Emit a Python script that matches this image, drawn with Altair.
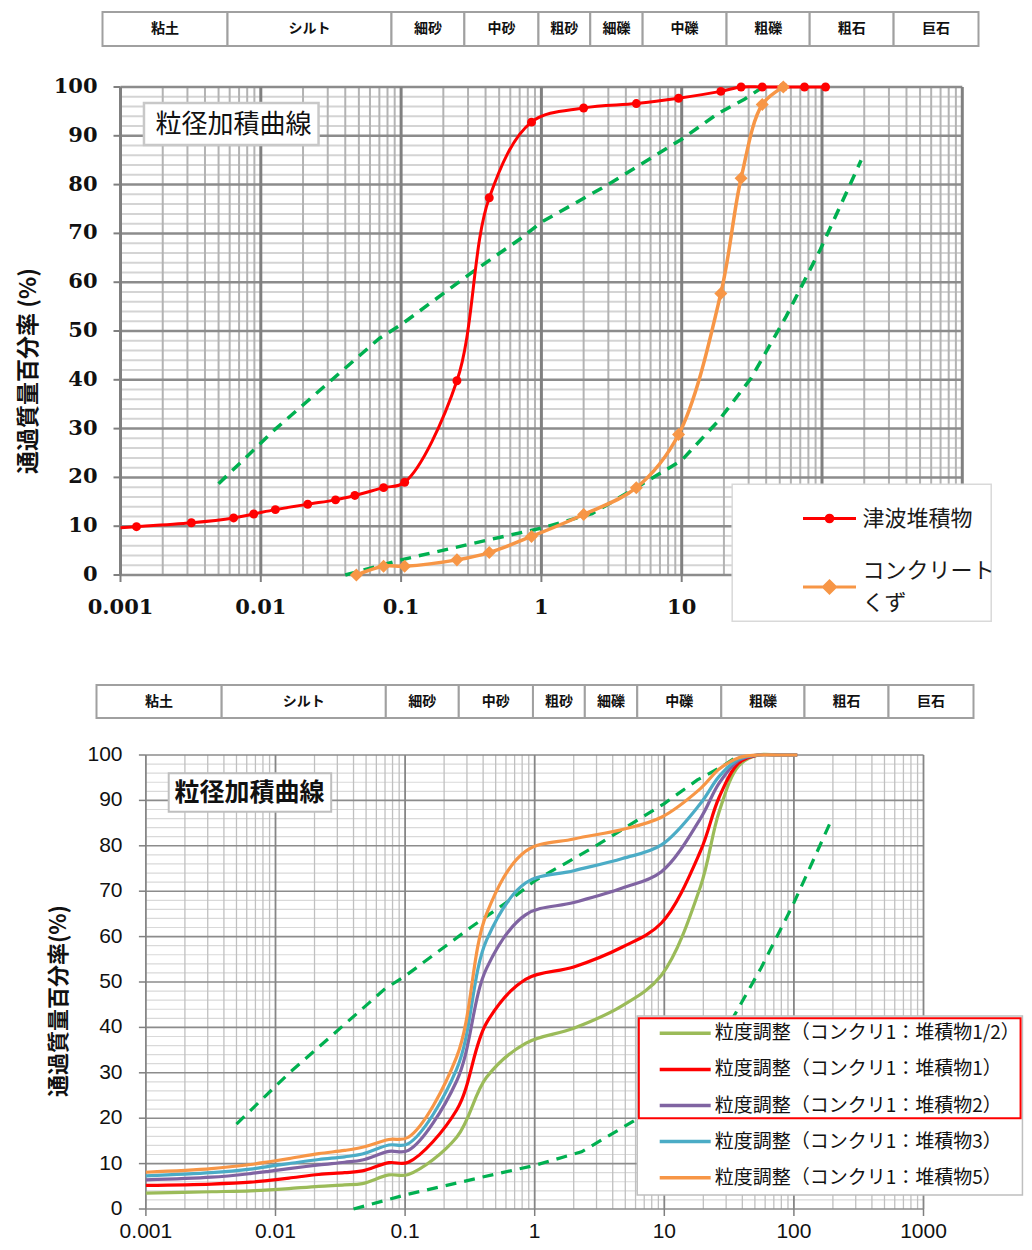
import altair as alt
import pandas as pd

JP = "Noto Sans CJK JP"

# ---------------- header: soil classification ----------------
CLASS_NAMES = ["粘土", "シルト", "細砂", "中砂", "粗砂", "細礫", "中礫", "粗礫", "粗石", "巨石"]
CLASS_BOUNDS = [0.000634, 0.005, 0.075, 0.25, 0.85, 2, 4.75, 19, 75, 300, 1219]

# ---------------- top chart ----------------
TOP_SERIES = ["津波堆積物", "コンクリートくず"]
TOP_COLORS = ["#FF0000", "#F79646"]
TSUNAMI_D = [0.001, 0.0013, 0.0032, 0.0064, 0.0089, 0.0127, 0.0216, 0.0341, 0.0468, 0.075, 0.106,
             0.25, 0.425, 0.85, 2, 4.75, 9.5, 19, 26.5, 37.5, 53, 75, 106]
TSUNAMI_P = [9.7, 9.9, 10.7, 11.7, 12.5, 13.4, 14.5, 15.4, 16.3, 17.9, 19.0,
             39.8, 77.3, 92.8, 95.7, 96.6, 97.7, 99.1, 100, 100, 100, 100, 100]
TSUNAMI_MARK = [False] + [True] * 22
CONCRETE_D = [0.048, 0.075, 0.106, 0.25, 0.425, 0.85, 2, 4.75, 9.5, 19, 26.5, 37.5, 53]
CONCRETE_P = [0, 1.8, 1.8, 3.1, 4.6, 7.9, 12.4, 17.9, 28.8, 57.7, 81.3, 96.4, 100]

# standard grading band (green dashed)
GUIDE_A_D = [0.005, 0.0127, 0.07, 0.1, 0.32, 0.7, 1, 2.9, 10, 18, 28, 38]
GUIDE_A_P = [18.7, 29.9, 48.5, 51.3, 62.0, 68.8, 72.3, 79.8, 89.3, 94.5, 97.5, 100]
GUIDE_B_D = [0.04, 0.1, 0.5, 1, 2.3, 4.75, 10, 18.4, 31.2, 55.8, 97.3, 150, 190]
GUIDE_B_P = [0, 3.1, 7.7, 9.6, 12.6, 17.9, 23.5, 31.7, 40.3, 53.1, 66.7, 78.5, 85]

# ---------------- bottom chart ----------------
MIX_SERIES = ["粒度調整（コンクリ1：堆積物1/2）", "粒度調整（コンクリ1：堆積物1）",
              "粒度調整（コンクリ1：堆積物2）", "粒度調整（コンクリ1：堆積物3）",
              "粒度調整（コンクリ1：堆積物5）"]
MIX_COLORS = ["#9BBB59", "#FF0000", "#8064A2", "#4BACC6", "#F79646"]
MIX_D = [0.001, 0.0032, 0.0064, 0.0089, 0.0127, 0.0216, 0.0341, 0.0468, 0.075, 0.106, 0.25,
         0.425, 0.85, 2, 4.75, 9.5, 19, 26.5, 37.5, 53, 75, 106]
MIX_HALF = [3.5, 3.8, 4.0, 4.2, 4.5, 5.0, 5.3, 5.6, 7.5, 7.6, 15.8, 29.0, 36.5, 39.8, 44.8, 51.5,
            71.0, 87.5, 97.6, 100, 100, 100]
MIX_1 = [5.2, 5.5, 5.9, 6.3, 6.8, 7.6, 8.0, 8.4, 10.2, 10.3, 21.8, 41.0, 50.6, 53.3, 57.7, 63.0,
         78.8, 90.7, 98.2, 100, 100, 100]
MIX_2 = [6.4, 7.0, 7.8, 8.3, 8.9, 9.7, 10.3, 10.8, 12.7, 12.9, 28.2, 53.0, 64.8, 67.5, 70.7, 74.3,
         86.0, 93.8, 98.8, 100, 100, 100]
MIX_3 = [7.3, 8.0, 8.8, 9.4, 10.0, 10.9, 11.5, 12.1, 14.1, 14.4, 30.8, 59.2, 71.8, 74.5, 77.2, 80.2,
         89.3, 95.3, 99.1, 100, 100, 100]
MIX_5 = [8.1, 8.9, 9.8, 10.4, 11.1, 12.2, 12.9, 13.6, 15.3, 15.8, 33.5, 65.0, 78.8, 81.5, 83.6, 86.3,
         92.6, 96.9, 99.4, 100, 100, 100]

# axes / grid
X_TICKS = [0.001, 0.01, 0.1, 1, 10, 100, 1000]
X_LABELS = ["0.001", "0.01", "0.1", "1", "10", "100", "1000"]
Y_TICKS = list(range(0, 101, 10))
X_MINOR = [m * d for d in X_TICKS[:-1] for m in range(2, 10)]
Y_MINOR = [v for v in range(0, 101, 2) if v % 10]

TITLE_TEXT = "粒径加積曲線"
TOP_YTITLE = "通過質量百分率 (%)"
BOT_YTITLE = "通過質量百分率(%)"
# annotation positions in data coordinates
TOP_TITLE_BOX = {"x1": 0.00147, "x2": 0.0258, "y1": 88.1, "y2": 96.7}
TOP_TITLE_AT = {"x": 0.0064, "y": 92.3}
TOP_YTITLE_AT = {"x": 0.000223, "y": 41.8}
TOP_LEGEND_BOX = {"x1": 22.9, "x2": 1607, "y1": -9.5, "y2": 18.6}
BOT_TITLE_BOX = {"x1": 0.0015, "x2": 0.0269, "y1": 87.5, "y2": 96.0}
BOT_TITLE_AT = {"x": 0.0063, "y": 91.7}
BOT_YTITLE_AT = {"x": 0.000215, "y": 45.8}
BOT_LEGEND_BOX = {"x1": 6.18, "x2": 5800, "y1": 3.1, "y2": 42.5}
BOT_RED_BOX = {"x1": 6.36, "x2": 5610, "y1": 20.0, "y2": 42.0}

PATH_CIRCLE = "M-2,0L2,0M0.25,0A0.25,0.25,0,1,1,-0.25,0A0.25,0.25,0,1,1,0.25,0Z"
PATH_DIAMOND = "M-2,1.21L2,1.21M0,0.76L0.45,1.21L0,1.66L-0.45,1.21Z"
PATH_LINE = "M-2,0L2,0"

W = 882


def header(rng, h):
    df = pd.DataFrame({"name": CLASS_NAMES, "lo": CLASS_BOUNDS[:-1], "hi": CLASS_BOUNDS[1:]})
    xs = alt.Scale(type="log", domain=[CLASS_BOUNDS[0], CLASS_BOUNDS[-1]], range=rng, nice=False)
    rect = alt.Chart(df).mark_rect(fill="white", stroke="#a0a0a0", strokeWidth=2).encode(
        x=alt.X("lo:Q", scale=xs, axis=None), x2="hi:Q", y=alt.value(0), y2=alt.value(h))
    txt = alt.Chart(df).transform_calculate(mid="sqrt(datum.lo * datum.hi)").mark_text(
        font=JP, fontSize=14, fontWeight="bold", color="#111").encode(
        x=alt.X("mid:Q", scale=xs, axis=None), y=alt.value(h / 2), text="name:N")
    return alt.layer(rect, txt)


def grid(xs, ys, st):
    vmin = alt.Chart(pd.DataFrame({"v": X_MINOR})).mark_rule(color=st["vmin"][0], strokeWidth=st["vmin"][1]).encode(
        x=alt.X("v:Q", scale=xs, axis=None), y=alt.YDatum(0, scale=ys, axis=None), y2=alt.datum(100))
    hmin = alt.Chart(pd.DataFrame({"v": Y_MINOR})).mark_rule(color=st["hmin"][0], strokeWidth=st["hmin"][1]).encode(
        y=alt.Y("v:Q", scale=ys, axis=None), x=alt.XDatum(0.001, scale=xs, axis=None), x2=alt.datum(1000))
    hmaj = alt.Chart(pd.DataFrame({"v": Y_TICKS})).mark_rule(color=st["hmaj"][0], strokeWidth=st["hmaj"][1]).encode(
        y=alt.Y("v:Q", scale=ys, axis=None), x=alt.XDatum(0.001, scale=xs, axis=None), x2=alt.datum(1000))
    vmaj = alt.Chart(pd.DataFrame({"v": X_TICKS})).mark_rule(color=st["vmaj"][0], strokeWidth=st["vmaj"][1]).encode(
        x=alt.X("v:Q", scale=xs, axis=None), y=alt.YDatum(0, scale=ys, axis=None), y2=alt.datum(100))
    return [hmin, vmin, hmaj, vmaj]


def axes(xs, ys, st):
    tick_y = alt.Chart(pd.DataFrame({"v": Y_TICKS})).mark_rule(
        color=st["axis"], strokeWidth=st["tickw"], x2Offset=-7).encode(
        x=alt.XDatum(X_TICKS[0], scale=xs, axis=None), x2=alt.datum(X_TICKS[0]),
        y=alt.Y("v:Q", scale=ys, axis=None))
    tick_x = alt.Chart(pd.DataFrame({"v": X_TICKS})).mark_rule(
        color=st["axis"], strokeWidth=st["tickw"], y2Offset=7).encode(
        x=alt.X("v:Q", scale=xs, axis=None), y=alt.YDatum(0, scale=ys, axis=None), y2=alt.datum(0))
    ylab = alt.Chart(pd.DataFrame({"v": Y_TICKS})).mark_text(
        align="right", baseline="middle", dx=-st["ylab_gap"], font=st["font"], fontSize=21,
        fontWeight=st["weight"], color="#111").encode(
        x=alt.XDatum(X_TICKS[0], scale=xs, axis=None), y=alt.Y("v:Q", scale=ys, axis=None),
        text=alt.Text("v:Q"))
    xlab = alt.Chart(pd.DataFrame({"v": X_TICKS, "t": X_LABELS})).transform_filter(
        f"datum.v <= {st['xlab_max']}").mark_text(
        align="center", baseline="top", dy=st["xlab_gap"], font=st["font"], fontSize=21,
        fontWeight=st["weight"], color="#111").encode(
        x=alt.X("v:Q", scale=xs, axis=None), y=alt.YDatum(0, scale=ys, axis=None), text="t:N")
    return [tick_y, tick_x, ylab, xlab]


def guides(xs, ys, width):
    df = pd.DataFrame({"d": GUIDE_A_D + GUIDE_B_D, "p": GUIDE_A_P + GUIDE_B_P,
                       "g": ["A"] * len(GUIDE_A_D) + ["B"] * len(GUIDE_B_D)})
    return alt.Chart(df).mark_line(color="#00B050", strokeWidth=width, strokeDash=[11, 8]).encode(
        x=alt.X("d:Q", scale=xs, axis=None), y=alt.Y("p:Q", scale=ys, axis=None), detail="g:N")


def box(xs, ys, b, **kw):
    return alt.Chart(pd.DataFrame([b])).mark_rect(**kw).encode(
        x=alt.X("x1:Q", scale=xs, axis=None), x2="x2:Q", y=alt.Y("y1:Q", scale=ys, axis=None), y2="y2:Q")


def label(xs, ys, at, text, **kw):
    return alt.Chart(pd.DataFrame([{**at, "t": text}])).mark_text(**kw).encode(
        x=alt.X("x:Q", scale=xs, axis=None), y=alt.Y("y:Q", scale=ys, axis=None), text="t:N")


# ================= TOP PANEL =================
H1 = 563
XS1 = alt.Scale(type="log", domain=[0.001, 1000], range=[24, 865.8], nice=False)
YS1 = alt.Scale(domain=[0, 100], range=[H1, 75], nice=False)
style1 = {"vmin": ("#b3b3b3", 2), "hmin": ("#d4d4d4", 2), "hmaj": ("#8c8c8c", 2.5), "vmaj": ("#808080", 3),
          "axis": "#7f7f7f", "tickw": 2, "font": "DejaVu Serif", "weight": "bold",
          "ylab_gap": 23, "xlab_gap": 22, "xlab_max": 10}

df_t = pd.DataFrame({"d": TSUNAMI_D, "p": TSUNAMI_P, "m": TSUNAMI_MARK})
df_c = pd.DataFrame({"d": CONCRETE_D, "p": CONCRETE_P})

red_line = alt.Chart(df_t).mark_line(color=TOP_COLORS[0], strokeWidth=3, interpolate="catmull-rom").encode(
    x=alt.X("d:Q", scale=XS1, axis=None), y=alt.Y("p:Q", scale=YS1, axis=None))
red_pts = alt.Chart(df_t).transform_filter("datum.m").mark_point(
    filled=True, shape="circle", size=80, color=TOP_COLORS[0], opacity=1).encode(
    x=alt.X("d:Q", scale=XS1, axis=None), y=alt.Y("p:Q", scale=YS1, axis=None))
org_line = alt.Chart(df_c).mark_line(color=TOP_COLORS[1], strokeWidth=3.5, interpolate="catmull-rom").encode(
    x=alt.X("d:Q", scale=XS1, axis=None), y=alt.Y("p:Q", scale=YS1, axis=None))
org_pts = alt.Chart(df_c).mark_point(
    filled=True, shape="diamond", size=170, color=TOP_COLORS[1], opacity=1).encode(
    x=alt.X("d:Q", scale=XS1, axis=None), y=alt.Y("p:Q", scale=YS1, axis=None))

top_legend = alt.Legend(title=None, orient="none", legendX=718, legendY=491.5, padding=0,
                        symbolSize=702, symbolStrokeWidth=3, symbolOffset=0, symbolOpacity=1,
                        labelFont=JP, labelFontSize=22, labelColor="#1a1a1a", labelOffset=18,
                        labelLimit=400, rowPadding=26.5,
                        labelExpr="datum.label == 'コンクリートくず' ? ['コンクリート', 'くず'] : datum.label")
legend_src = alt.Chart(pd.DataFrame({"series": TOP_SERIES})).transform_filter("false").mark_point(
    filled=True, opacity=1, strokeWidth=3).encode(
    fill=alt.Fill("series:N", scale=alt.Scale(domain=TOP_SERIES, range=TOP_COLORS), legend=top_legend),
    stroke=alt.Stroke("series:N", scale=alt.Scale(domain=TOP_SERIES, range=TOP_COLORS), legend=top_legend),
    shape=alt.Shape("series:N", scale=alt.Scale(domain=TOP_SERIES, range=[PATH_CIRCLE, PATH_DIAMOND]),
                    legend=top_legend))

data1 = alt.layer(
    *grid(XS1, YS1, style1),
    *axes(XS1, YS1, style1),
    label(XS1, YS1, TOP_YTITLE_AT, TOP_YTITLE, font=JP, fontSize=23, fontWeight="bold", color="#111",
          angle=270, align="center", baseline="middle"),
    guides(XS1, YS1, 3.5),
    red_line, red_pts, org_line, org_pts,
    box(XS1, YS1, TOP_TITLE_BOX, fill="white", stroke="#c8c8c8", strokeWidth=2.5),
    label(XS1, YS1, TOP_TITLE_AT, TITLE_TEXT, font=JP, fontSize=26, color="#111"),
    box(XS1, YS1, TOP_LEGEND_BOX, fill="white", stroke="#d9d9d9", strokeWidth=1.5),
    legend_src,
)
top = alt.layer(header([6, 882], 34), data1).resolve_scale(x="independent").properties(width=W, height=H1)

# ================= BOTTOM PANEL =================
H2 = 524
XS2 = alt.Scale(type="log", domain=[0.001, 1000], range=[49.4, 827.0], nice=False)
YS2 = alt.Scale(domain=[0, 100], range=[H2, 70], nice=False)
style2 = {"vmin": ("#c0c0c0", 1.3), "hmin": ("#d9d9d9", 1.2), "hmaj": ("#8c8c8c", 1.6), "vmaj": ("#868686", 1.8),
          "axis": "#7f7f7f", "tickw": 1.5, "font": "Liberation Sans", "weight": "normal",
          "ylab_gap": 23.4, "xlab_gap": 12, "xlab_max": 1000}

mix_rows = []
for name, vals in zip(MIX_SERIES, [MIX_HALF, MIX_1, MIX_2, MIX_3, MIX_5]):
    for d, p in zip(MIX_D, vals):
        mix_rows.append({"series": name, "d": d, "p": p})
df_mix = pd.DataFrame(mix_rows)

bot_legend = alt.Legend(title=None, orient="none", legendX=574.2, legendY=333.8, padding=0,
                        symbolType=PATH_LINE, symbolSize=650, symbolStrokeWidth=3.5, symbolOffset=0,
                        labelFont=JP, labelFontSize=19, labelColor="#111", labelOffset=15,
                        labelLimit=500, rowPadding=11.1)
mix_lines = alt.Chart(df_mix).mark_line(strokeWidth=3.2, interpolate="catmull-rom").encode(
    x=alt.X("d:Q", scale=XS2, axis=None), y=alt.Y("p:Q", scale=YS2, axis=None),
    color=alt.Color("series:N", scale=alt.Scale(domain=MIX_SERIES, range=MIX_COLORS), legend=bot_legend))

data2 = alt.layer(
    *grid(XS2, YS2, style2),
    *axes(XS2, YS2, style2),
    label(XS2, YS2, BOT_YTITLE_AT, BOT_YTITLE, font=JP, fontSize=22, fontWeight="bold", color="#111",
          angle=270, align="center", baseline="middle"),
    guides(XS2, YS2, 3.2),
    mix_lines,
    box(XS2, YS2, BOT_TITLE_BOX, fill="white", stroke="#bfbfbf", strokeWidth=2),
    label(XS2, YS2, BOT_TITLE_AT, TITLE_TEXT, font=JP, fontSize=25, fontWeight="bold", color="#111"),
    box(XS2, YS2, BOT_LEGEND_BOX, fill="white", stroke="#bfbfbf", strokeWidth=1.5),
    box(XS2, YS2, BOT_RED_BOX, filled=False, stroke="#FF0000", strokeWidth=2),
)
bottom = alt.layer(header([0, 877], 33), data2).resolve_scale(x="independent").properties(width=W, height=H2)

chart = alt.vconcat(top, bottom, spacing=110, bounds="flush").resolve_scale(
    color="independent", fill="independent", stroke="independent", shape="independent"
).properties(padding={"left": 9.5, "top": 3, "right": 0, "bottom": 0}).configure(
    view={"strokeWidth": 0}, style={"guide-label": {"lineHeight": 32}})

chart.save("out.html", embed_options={"renderer": "svg", "actions": False})
